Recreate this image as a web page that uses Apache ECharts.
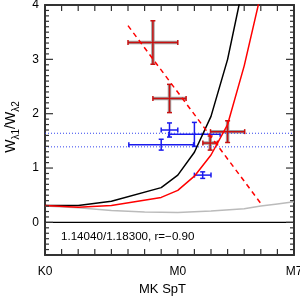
<!DOCTYPE html>
<html><head><meta charset="utf-8">
<script src="https://cdn.jsdelivr.net/npm/echarts@6/dist/echarts.min.js"></script>
<style>html,body{margin:0;padding:0;background:#fff}#c{width:300px;height:300px}</style>
</head><body><div id="c"></div>
<script>
// Spectral type axis: K0=0, M0=8, M7=15
const xTickLabels = {0: 'K0', 8: 'M0', 15: 'M7'};
const xTickValues = [0, 1, 2, 3, 4, 5, 6, 7, 8, 9, 10, 11, 12, 13, 14, 15];
const yTickValues = [0, 1, 2, 3, 4];

// model curves
const blackX = [0, 2, 4, 7, 8, 9, 10, 11, 12];
const blackY = [0.31, 0.31, 0.39, 0.64, 0.87, 1.29, 1.95, 3.0, 4.45];
const redX = [0, 2, 4, 7, 8, 9, 10, 11, 12, 13];
const redY = [0.31, 0.28, 0.31, 0.46, 0.59, 0.85, 1.24, 1.80, 2.88, 4.2];
const grayX = [0, 2, 4, 6, 8, 10, 12, 13, 14, 15];
const grayY = [0.30, 0.27, 0.22, 0.19, 0.18, 0.21, 0.25, 0.30, 0.34, 0.38];

// linear fit (dashed)
const fitX = [5.0, 13.0];
const fitY = [3.62, 0.35];

// red measurements
const redPtX = [6.5, 7.5, 11.0, 9.95];
const redPtY = [3.31, 2.28, 1.67, 1.46];
const redPtXErr = [1.5, 1.0, 1.03, 0.44];
const redPtYErr = [0.40, 0.26, 0.20, 0.13];

// blue measurements
const bluePtX = [7.5, 7.0, 9.0, 9.5];
const bluePtY = [1.70, 1.43, 1.62, 0.87];
const bluePtXErr = [0.5, 1.95, 1.55, 0.5];
const bluePtYErr = [0.13, 0.10, 0.22, 0.06];

// horizontal reference levels
const blueLevels = [1.64, 1.39];
const zeroLevel = 0;

const annotation = '1.14040/1.18300, r=\u22120.90';

const X_MIN = 0, X_MAX = 15, Y_MIN = -0.6, Y_MAX = 4;
const minorY = [];
for (let i = -6; i <= 40; i++) if (i % 10 !== 0) minorY.push(i / 10);

const FONT = 'Liberation Sans';
const FRAME = '#333333';

function zip(a, b) { return a.map((v, i) => [v, b[i]]); }
function errData(x, y, xe, ye) { return x.map((v, i) => [v, y[i], xe[i], ye[i]]); }

function seg(p, q, color, w) {
  return {type: 'line', shape: {x1: p[0], y1: p[1], x2: q[0], y2: q[1]}, style: {stroke: color, lineWidth: w}};
}

function errRender(lineColor, shadow) {
  return function (params, api) {
    const x = api.value(0), y = api.value(1), xe = api.value(2), ye = api.value(3);
    const l = api.coord([x - xe, y]), r = api.coord([x + xe, y]);
    const t = api.coord([x, y + ye]), b = api.coord([x, y - ye]);
    const c = 2.5;
    const segs = [
      [l, r], [t, b],
      [[l[0], l[1] - c], [l[0], l[1] + c]],
      [[r[0], r[1] - c], [r[0], r[1] + c]],
      [[t[0] - c, t[1]], [t[0] + c, t[1]]],
      [[b[0] - c, b[1]], [b[0] + c, b[1]]]
    ];
    const children = [];
    if (shadow) segs.slice(0, 2).forEach(s => children.push(seg(s[0], s[1], '#a0a0a0', 3.5)));
    segs.forEach(s => children.push(seg(s[0], s[1], lineColor, 1.5)));
    return {type: 'group', children: children};
  };
}

const chart = echarts.init(document.getElementById('c'), null, {renderer: 'canvas'});
chart.setOption({
  animation: false,
  backgroundColor: '#fff',
  grid: {left: 45, right: 6, top: 5, bottom: 45, containLabel: false, outerBoundsMode: 'none'},
  xAxis: [
    {type: 'value', min: X_MIN, max: X_MAX, interval: 1, position: 'bottom', splitLine: {show: false},
      axisLine: {show: true, onZero: false, lineStyle: {color: FRAME, width: 2}},
      axisTick: {show: false},
      axisLabel: {show: true, margin: 11, fontFamily: FONT, fontSize: 12, color: '#000', showMaxLabel: true, showMinLabel: true,
        formatter: v => xTickLabels[v] !== undefined ? xTickLabels[v] : ''},
      name: 'MK SpT', nameLocation: 'middle', nameGap: 26,
      nameTextStyle: {fontFamily: FONT, fontSize: 13, color: '#000', padding: [0, 14, 0, 0]}
    },
    {type: 'value', min: X_MIN, max: X_MAX, interval: 1, position: 'top', splitLine: {show: false},
      axisLine: {show: true, onZero: false, lineStyle: {color: FRAME, width: 2}},
      axisTick: {show: false}, axisLabel: {show: false}
    }
  ],
  yAxis: [
    {type: 'value', min: Y_MIN, max: Y_MAX, position: 'left', splitLine: {show: false},
      axisLine: {show: true, onZero: false, lineStyle: {color: FRAME, width: 2}},
      axisTick: {show: false},
      axisLabel: {show: true, customValues: yTickValues, fontFamily: FONT, fontSize: 12, color: '#000', margin: 6},
      name: '{w|W}{s|λ1}{w|/W}{s|λ2}', nameLocation: 'middle', nameGap: 21, nameRotate: 90,
      nameTextStyle: {padding: [0, 0, 0, 6], rich: {
        w: {fontFamily: FONT, fontSize: 14, color: '#000', verticalAlign: 'bottom', lineHeight: 17},
        s: {fontFamily: FONT, fontSize: 10, color: '#000', verticalAlign: 'bottom', lineHeight: 17, padding: [0, 0, -3, 0]}
      }}
    },
    {type: 'value', min: Y_MIN, max: Y_MAX, position: 'right', splitLine: {show: false},
      axisLine: {show: true, onZero: false, lineStyle: {color: FRAME, width: 2}},
      axisTick: {show: false}, axisLabel: {show: false}
    }
  ],
  series: [
    {type: 'line', data: [[X_MIN, zeroLevel], [X_MAX, zeroLevel]], symbol: 'none', lineStyle: {color: '#000', width: 1.2}, silent: true},
    {type: 'line', data: [[X_MIN, blueLevels[0]], [X_MAX, blueLevels[0]]], symbol: 'none', lineStyle: {color: '#3344ee', width: 1, type: [1, 2]}},
    {type: 'line', data: [[X_MIN, blueLevels[1]], [X_MAX, blueLevels[1]]], symbol: 'none', lineStyle: {color: '#3344ee', width: 1, type: [1, 2]}},
    {type: 'line', data: zip(grayX, grayY), symbol: 'none', lineStyle: {color: '#bbbbbb', width: 1.5}},
    {type: 'line', data: zip(blackX, blackY), symbol: 'none', lineStyle: {color: '#000', width: 1.5}, clip: true},
    {type: 'line', data: zip(redX, redY), symbol: 'none', lineStyle: {color: '#ff0000', width: 1.5}, clip: true},
    {type: 'line', data: zip(fitX, fitY), symbol: 'none', lineStyle: {color: '#ff0000', width: 1.5, type: [5, 4]}},
    {type: 'custom', data: errData(bluePtX, bluePtY, bluePtXErr, bluePtYErr), renderItem: errRender('#1a1aee', false), encode: {x: 0, y: 1}, clip: true},
    {type: 'custom', data: errData(redPtX, redPtY, redPtXErr, redPtYErr), renderItem: errRender('#c81010', true), encode: {x: 0, y: 1}, clip: true}
  ],
  graphic: [
    {type: 'text', left: 61, top: 231, style: {text: annotation, font: '11.6px "Liberation Sans"', fill: '#000'}}
  ]
});

// frame tick marks, positioned through the chart's own axis scales
try {
  const finder = {xAxisIndex: 0, yAxisIndex: 0};
  const px = p => chart.convertToPixel(finder, p);
  const ticks = [];
  const addLine = (p, q) => ticks.push({type: 'line', z: 100, silent: true, shape: {x1: p[0], y1: p[1], x2: q[0], y2: q[1]}, style: {stroke: FRAME, lineWidth: 1.2}});
  xTickValues.forEach(v => {
    const b = px([v, Y_MIN]), t = px([v, Y_MAX]);
    addLine(b, [b[0], b[1] - 6]);
    addLine(t, [t[0], t[1] + 6]);
  });
  yTickValues.map(v => [v, 8]).concat(minorY.map(v => [v, 4])).forEach(([v, len]) => {
    const l = px([X_MIN, v]), r = px([X_MAX, v]);
    addLine(l, [l[0] + len, l[1]]);
    addLine(r, [r[0] - len, r[1]]);
  });
  chart.setOption({graphic: [
    {type: 'text', left: 61, top: 231, style: {text: annotation, font: '11.6px "Liberation Sans"', fill: '#000'}}
  ].concat(ticks)});
} catch (e) { /* keep chart without extra ticks */ }
</script>
</body></html>
